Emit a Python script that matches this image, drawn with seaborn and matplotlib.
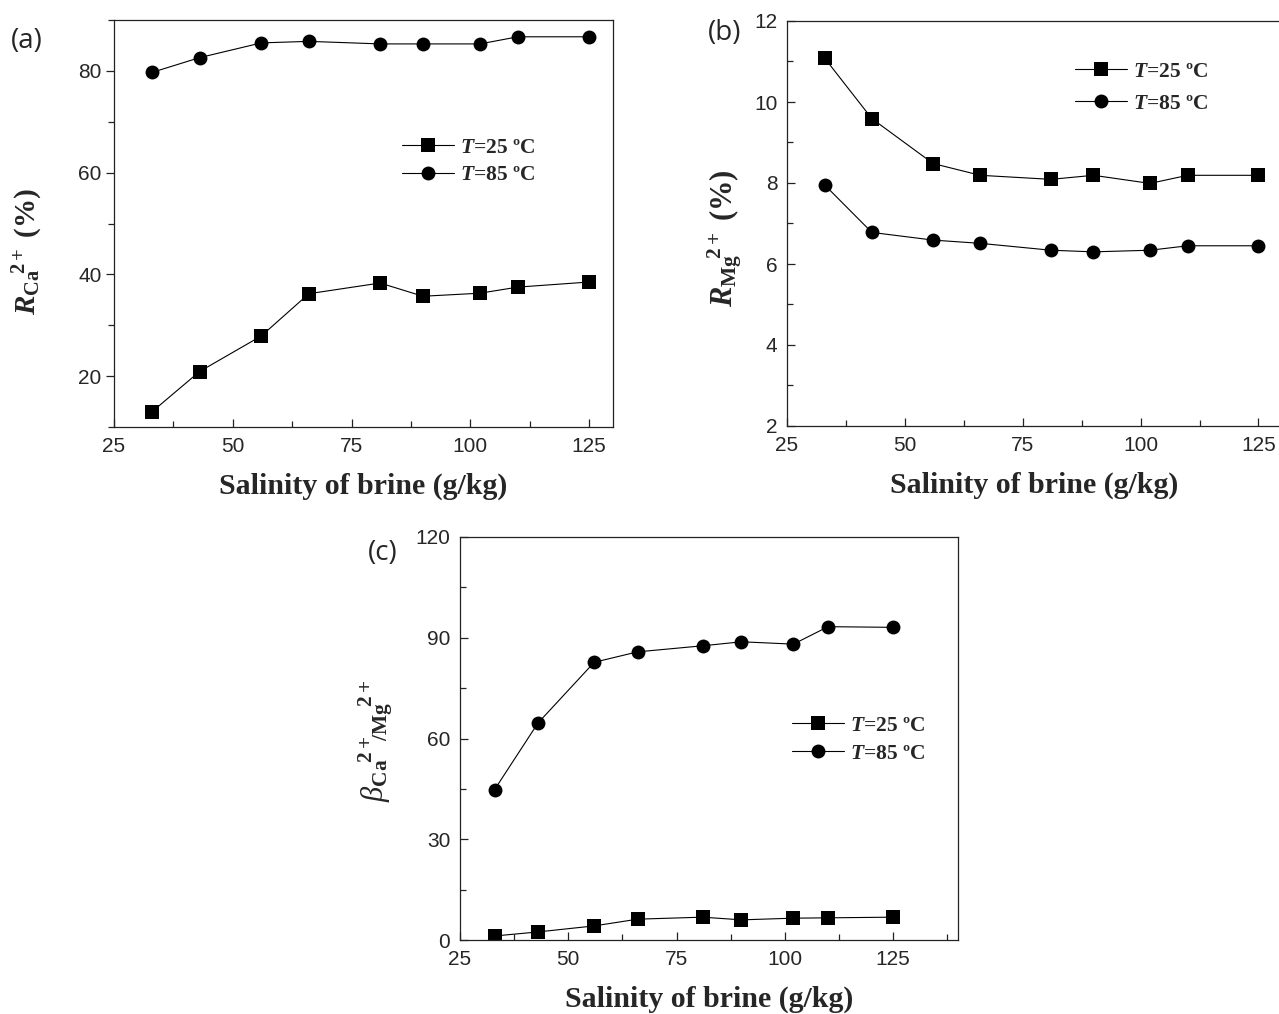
import numpy as np
import pandas as pd
import matplotlib
matplotlib.use("Agg")
import matplotlib.pyplot as plt
from matplotlib.ticker import MultipleLocator
import seaborn as sns

# ---------------- data ----------------
salinity = [33, 43, 56, 66, 81, 90, 102, 110, 125]

ca_25 = [13.0, 20.9, 27.9, 36.2, 38.3, 35.7, 36.3, 37.5, 38.5]
ca_85 = [79.7, 82.6, 85.5, 85.8, 85.3, 85.3, 85.3, 86.7, 86.7]

mg_25 = [11.08, 9.59, 8.48, 8.19, 8.09, 8.19, 7.99, 8.19, 8.19]
mg_85 = [7.95, 6.78, 6.59, 6.51, 6.34, 6.30, 6.34, 6.45, 6.45]

beta_25 = [1.2, 2.4, 4.2, 6.2, 6.8, 6.0, 6.5, 6.6, 6.8]
beta_85 = [44.8, 64.6, 82.7, 85.8, 87.6, 88.8, 88.1, 93.3, 93.1]

legend_labels = [r"$T$=25 ºC", r"$T$=85 ºC"]
xlabel_text = "Salinity of brine (g/kg)"

# ---------------- style ----------------
sns.set_style("ticks")
plt.rcParams.update({
    "font.family": ["Liberation Sans", "DejaVu Sans"],
    "mathtext.fontset": "custom",
    "mathtext.rm": "Liberation Serif:bold",
    "mathtext.it": "Liberation Serif:bold:italic",
    "mathtext.bf": "Liberation Serif:bold",
    "mathtext.sf": "Liberation Serif:italic",
    "axes.edgecolor": "#222222",
    "axes.linewidth": 0.9,
})

W, H = 1279, 1014
fig = plt.figure(figsize=(W / 100, H / 100), dpi=100)


def px_axes(left, top, right, bottom):
    return fig.add_axes([left / W, 1 - bottom / H, (right - left) / W, (bottom - top) / H])


serif_bold = dict(family="Liberation Serif", weight="bold")


def draw_panel(ax, y25, y85, xlim, ylim, ymaj, ymin, ylabel, ylab_xy, ylab_size,
               leg_anchor, leg_spacing, ydir="in"):
    df = pd.DataFrame({
        "x": salinity * 2,
        "y": list(y25) + list(y85),
        "T": [legend_labels[0]] * len(salinity) + [legend_labels[1]] * len(salinity),
    })
    sns.lineplot(data=df, x="x", y="y", style="T", markers=["s", "o"], dashes=False,
                 color="black", linewidth=0.8, markersize=10, markeredgewidth=0,
                 ax=ax, legend=True)
    ax.set_xlim(*xlim)
    ax.set_ylim(*ylim)
    ax.xaxis.set_major_locator(MultipleLocator(25))
    ax.xaxis.set_minor_locator(MultipleLocator(12.5))
    ax.yaxis.set_major_locator(MultipleLocator(ymaj))
    ax.yaxis.set_minor_locator(MultipleLocator(ymin))
    ax.tick_params(axis="x", which="both", direction="in", labelsize=15, pad=7,
                   color="#222222", width=0.9)
    ax.tick_params(axis="y", which="both", direction=ydir, labelsize=15,
                   pad=(3 if ydir == "out" else 7), color="#222222", width=0.9)
    ax.tick_params(which="major", length=6)
    ax.tick_params(which="minor", length=4)
    ax.set_xlabel(xlabel_text, fontsize=21.5, labelpad=12, **serif_bold)
    ax.set_ylabel(ylabel, fontsize=ylab_size, **serif_bold)
    ax.yaxis.set_label_coords(*ylab_xy)
    for s in ax.spines.values():
        s.set_visible(True)
    h, l = ax.get_legend_handles_labels()
    ax.legend(h, l, loc="center left", bbox_to_anchor=leg_anchor, frameon=False,
              prop=dict(family="Liberation Serif", weight="bold", size=15.5),
              handlelength=2.4, handletextpad=0.3, borderpad=0, borderaxespad=0,
              labelspacing=leg_spacing)
    return ax


# panel (a)
axa = px_axes(114, 20, 613, 427)
draw_panel(axa, ca_25, ca_85, (25, 130), (10, 90), 20, 10,
           r"$R_{\mathrm{Ca}}\!{}^{2+}$ (%)", (-0.138, 0.43), 21,
           (0.577, 0.652), 0.35, ydir="out")

# panel (b)
axb = px_axes(787, 21, 1282, 426)
draw_panel(axb, mg_25, mg_85, (25, 130), (2, 12), 2, 1,
           r"$R_{\mathrm{Mg}}\!{}^{2+}$ (%)", (-0.087, 0.465), 22,
           (0.582, 0.835), 0.55)

# panel (c)
axc = px_axes(460, 537, 958, 940)
draw_panel(axc, beta_25, beta_85, (25, 140), (0, 120), 30, 15,
           r"$\mathsf{\beta}_{\mathrm{Ca}}\!{}^{2+}\!\!{}_{/\mathrm{Mg}}\!{}^{2+}$",
           (-0.13, 0.495), 22, (0.667, 0.497), 0.35)

# panel letters
for txt, x, y in [("(a)", 27, 41), ("(b)", 725, 33), ("(c)", 383, 553)]:
    fig.text(x / W, 1 - y / H, txt, ha="center", va="center",
             fontsize=20, family=["Open Sans", "DejaVu Sans"])

fig.savefig("out.png", dpi=100)
